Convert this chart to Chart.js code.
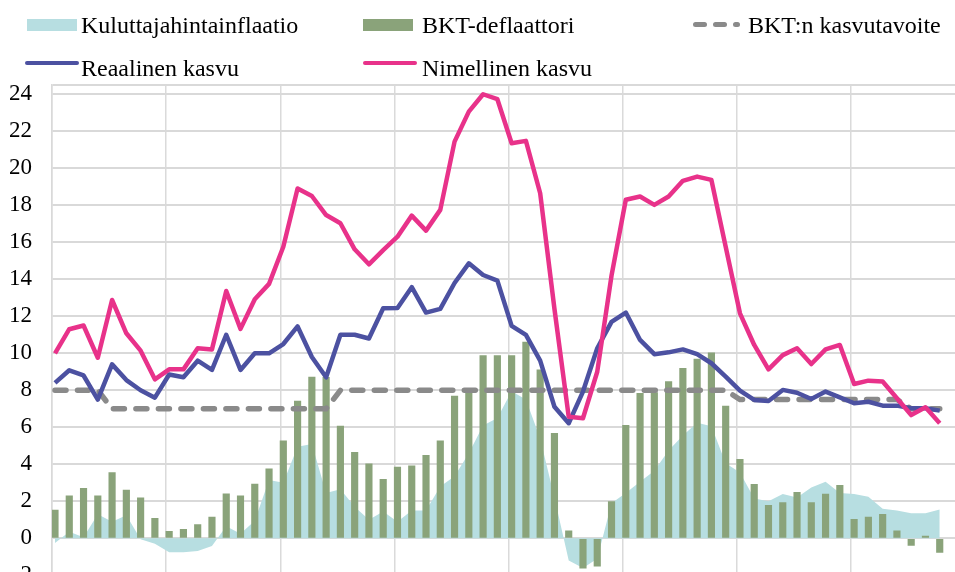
<!DOCTYPE html>
<html>
<head>
<meta charset="utf-8">
<title>BKT ja inflaatio</title>
<script src="https://cdn.jsdelivr.net/npm/chart.js@4.4.1/dist/chart.umd.min.js"></script>
<style>
  html, body { margin: 0; padding: 0; background: #fff; overflow: hidden; }
  #wrap { position: relative; width: 955px; height: 572px; overflow: hidden; }
  #chart { position: absolute; left: 0; top: 0; }
  #legend {
    position: absolute; left: 0; top: 0; width: 955px; height: 85px;
    font-family: "Liberation Serif", "Times New Roman", serif; font-size: 24px; color: #000;
  }
  #legend .swatch { position: absolute; }
  #legend .label { position: absolute; line-height: 24px; white-space: nowrap; }
  #legend .dash { position: absolute; height: 5px; border-radius: 3px; }
</style>
</head>
<body>
<div id="wrap">
  <canvas id="chart" width="955" height="600"></canvas>
  <div id="legend"></div>
</div>
<script>
// quarterly data, 2000Q1 - 2015Q3 (no axis labels are shown in the picture)
const quarters = [];
for (let y = 2000; y <= 2015; y++) {
  for (let q = 1; q <= 4; q++) {
    if (quarters.length < 63) quarters.push(y + "Q" + q);
  }
}

const cpiInflation = [
  -0.25, 0.35, 0.05, 1.3, 0.9, 1.25, -0.05, -0.3,
  -0.75, -0.75, -0.68, -0.42, 0.65, 0.25, 0.95, 3.15,
  3.0, 4.95, 5.1, 2.45, 2.65, 1.7, 1.0, 1.45,
  0.9, 1.5, 1.5, 2.8, 3.35, 4.6, 6.1, 6.5,
  7.95, 7.5, 5.4, 2.2, -1.2, -1.6, -1.1, 1.9,
  2.45, 3.05, 3.65, 4.75, 5.55, 6.25, 6.05, 4.05,
  3.55, 2.15, 2.0, 2.4, 2.2, 2.75, 3.05, 2.45,
  2.4, 2.25, 1.6, 1.5, 1.35, 1.35, 1.55
];

const gdpDeflator = [
  1.53, 2.3, 2.7, 2.3, 3.55, 2.61, 2.19, 1.08,
  0.38, 0.49, 0.74, 1.14, 2.41, 2.3, 2.93, 3.76,
  5.27, 7.42, 8.72, 8.7, 6.07, 4.65, 4.02, 3.19,
  3.85, 3.92, 4.49, 5.27, 7.69, 7.95, 9.87, 9.87,
  9.87, 10.6, 9.1, 5.67, 0.41, -1.62, -1.5, 1.98,
  6.1, 7.84, 7.87, 8.47, 9.19, 9.69, 10.02, 7.15,
  4.27, 2.92, 1.78, 1.93, 2.49, 1.93, 2.39, 2.86,
  1.03, 1.14, 1.3, 0.41, -0.38, 0.12, -0.76
];

const growthTarget = [
  8, 8, 8, 8, 7, 7, 7, 7,
  7, 7, 7, 7, 7, 7, 7, 7,
  7, 7, 7, 7, 8, 8, 8, 8,
  8, 8, 8, 8, 8, 8, 8, 8,
  8, 8, 8, 8, 8, 8, 8, 8,
  8, 8, 8, 8, 8, 8, 8, 8,
  7.5, 7.5, 7.5, 7.5, 7.5, 7.5, 7.5, 7.5,
  7.5, 7.5, 7.5, 7.5, 7, 7, 7
];

const realGrowth = [
  8.4, 9.08, 8.8, 7.5, 9.4, 8.55, 8.0, 7.6,
  8.85, 8.7, 9.6, 9.1, 11.0, 9.1, 10.0, 10.0,
  10.5, 11.45, 9.8, 8.7, 11.0, 11.0, 10.8, 12.43,
  12.45, 13.57, 12.2, 12.4, 13.8, 14.86, 14.23, 13.93,
  11.48, 10.99, 9.6, 7.11, 6.22, 7.93, 10.27, 11.7,
  12.2, 10.72, 9.95, 10.05, 10.21, 9.95, 9.46, 8.74,
  7.98, 7.48, 7.42, 8.02, 7.87, 7.53, 7.93, 7.62,
  7.3, 7.38, 7.17, 7.17, 7.03, 7.03, 6.9
];

const nominalGrowth = [
  10.0, 11.3, 11.5, 9.76, 12.88, 11.08, 10.14, 8.59,
  9.13, 9.13, 10.27, 10.21, 13.37, 11.32, 12.92, 13.75,
  15.76, 18.91, 18.5, 17.47, 17.03, 15.62, 14.81, 15.58,
  16.3, 17.44, 16.63, 17.75, 21.44, 23.06, 24.0, 23.73,
  21.35, 21.48, 18.65, 12.4, 6.57, 6.49, 9.0, 14.2,
  18.3, 18.47, 18.02, 18.47, 19.32, 19.55, 19.37, 15.76,
  12.16, 10.45, 9.13, 9.9, 10.27, 9.42, 10.21, 10.45,
  8.34, 8.52, 8.47, 7.57, 6.66, 7.08, 6.22
];

const yTicks = [-2, 0, 2, 4, 6, 8, 10, 12, 14, 16, 18, 20, 22, 24];

// every quarter sits at its index on a linear x scale
const toPoints = (arr) => arr.map((v, i) => ({ x: i, y: v }));

const chartConfig = {
  type: "bar",
  data: {
    labels: quarters,
    datasets: [
      {
        type: "line",
        label: "Kuluttajahintainflaatio",
        data: toPoints(cpiInflation),
        backgroundColor: "#b7dee1",
        borderColor: "#b7dee1",
        borderWidth: 0,
        pointRadius: 0,
        fill: "origin",
        tension: 0,
        order: 5,
      },
      {
        type: "bar",
        label: "BKT-deflaattori",
        data: toPoints(gdpDeflator),
        backgroundColor: "#8aa37a",
        barThickness: 6.5,
        grouped: false,
        order: 4,
      },
      {
        type: "line",
        label: "BKT:n kasvutavoite",
        data: toPoints(growthTarget),
        borderColor: "#8a8a8a",
        borderWidth: 5.5,
        borderDash: [11, 11.5],
        borderCapStyle: "round",
        pointRadius: 0,
        fill: false,
        tension: 0,
        order: 3,
      },
      {
        type: "line",
        label: "Reaalinen kasvu",
        data: toPoints(realGrowth),
        borderColor: "#4c51a1",
        borderWidth: 4.5,
        borderJoinStyle: "round",
        pointRadius: 0,
        fill: false,
        tension: 0,
        order: 2,
      },
      {
        type: "line",
        label: "Nimellinen kasvu",
        data: toPoints(nominalGrowth),
        borderColor: "#e8328a",
        borderWidth: 4.5,
        borderJoinStyle: "round",
        pointRadius: 0,
        fill: false,
        tension: 0,
        order: 1,
      },
    ],
  },
  options: {
    responsive: false,
    animation: false,
    layout: { padding: { top: 85, left: 0, right: 0, bottom: 24.7 } },
    plugins: {
      legend: { display: false },
      tooltip: { enabled: false },
    },
    scales: {
      x: {
        type: "linear",
        min: -0.21,
        max: 63.07,
        offset: false,
        ticks: { display: false },
        grid: { color: "#dadada", lineWidth: 1.5, drawTicks: false, offset: false },
        border: { display: false },
        afterBuildTicks: (scale) => {
          // vertical gridlines every two years
          const t = [];
          for (let v = -0.21; v < 63; v += 8) t.push({ value: v });
          scale.ticks = t;
        },
        afterFit: (scale) => {
          scale.height = 0;
        },
      },
      y: {
        min: -2,
        max: 24.5,
        ticks: {
          padding: 20,
          color: "#000",
          font: { family: "'Liberation Serif', 'Times New Roman', serif", size: 23 },
          callback: (v) => (yTicks.includes(v) ? v : ""),
        },
        grid: { color: "#d9d9d9", lineWidth: 2, drawTicks: false },
        border: { display: true, color: "#d9d9d9", width: 1.5 },
        afterBuildTicks: (scale) => {
          scale.ticks = yTicks.concat([24.5]).map((v) => ({ value: v }));
        },
        afterFit: (scale) => {
          // fixed axis width; tick padding should not eat into the plot height
          scale.width = 52;
          scale.paddingTop = 0;
          scale.paddingBottom = 0;
        },
      },
    },
  },
};

const ctx = document.getElementById("chart").getContext("2d");
const chart = new Chart(ctx, chartConfig);

// html legend, built from the datasets; slots follow the two-row layout of the picture
const legendSlots = [
  { sx: 27, tx: 81, row: 0 },
  { sx: 363, tx: 422, row: 0 },
  { sx: 693, tx: 748, row: 0 },
  { sx: 25, tx: 81, row: 1 },
  { sx: 363, tx: 422, row: 1 },
];
const rowBaseline = [33.3, 76];

function buildLegend(chart) {
  const box = document.getElementById("legend");
  box.innerHTML = "";
  chart.data.datasets.forEach((ds, i) => {
    const slot = legendSlots[i];
    const base = rowBaseline[slot.row];

    if (ds.borderDash) {
      // dashed swatch: two dashes and a dot
      [[0, 14], [20, 14], [40, 7]].forEach(([dx, w]) => {
        const d = document.createElement("span");
        d.className = "dash";
        d.style.left = slot.sx + dx + "px";
        d.style.top = base - 11.5 + "px";
        d.style.width = w + "px";
        d.style.background = ds.borderColor;
        box.appendChild(d);
      });
    } else if (ds.fill === "origin" || ds.type === "bar") {
      const s = document.createElement("span");
      s.className = "swatch";
      s.style.left = slot.sx + "px";
      s.style.top = base - 14 + "px";
      s.style.width = "50px";
      s.style.height = "12px";
      s.style.background = ds.backgroundColor;
      box.appendChild(s);
    } else {
      const s = document.createElement("span");
      s.className = "swatch";
      s.style.left = slot.sx + "px";
      s.style.top = base - 15 + "px";
      s.style.width = "54px";
      s.style.height = "4px";
      s.style.borderRadius = "2px";
      s.style.background = ds.borderColor;
      box.appendChild(s);
    }

    const t = document.createElement("span");
    t.className = "label";
    t.style.left = slot.tx + "px";
    t.style.top = base - 20.1 + "px";
    t.textContent = ds.label;
    box.appendChild(t);
  });
}

buildLegend(chart);
</script>
</body>
</html>
